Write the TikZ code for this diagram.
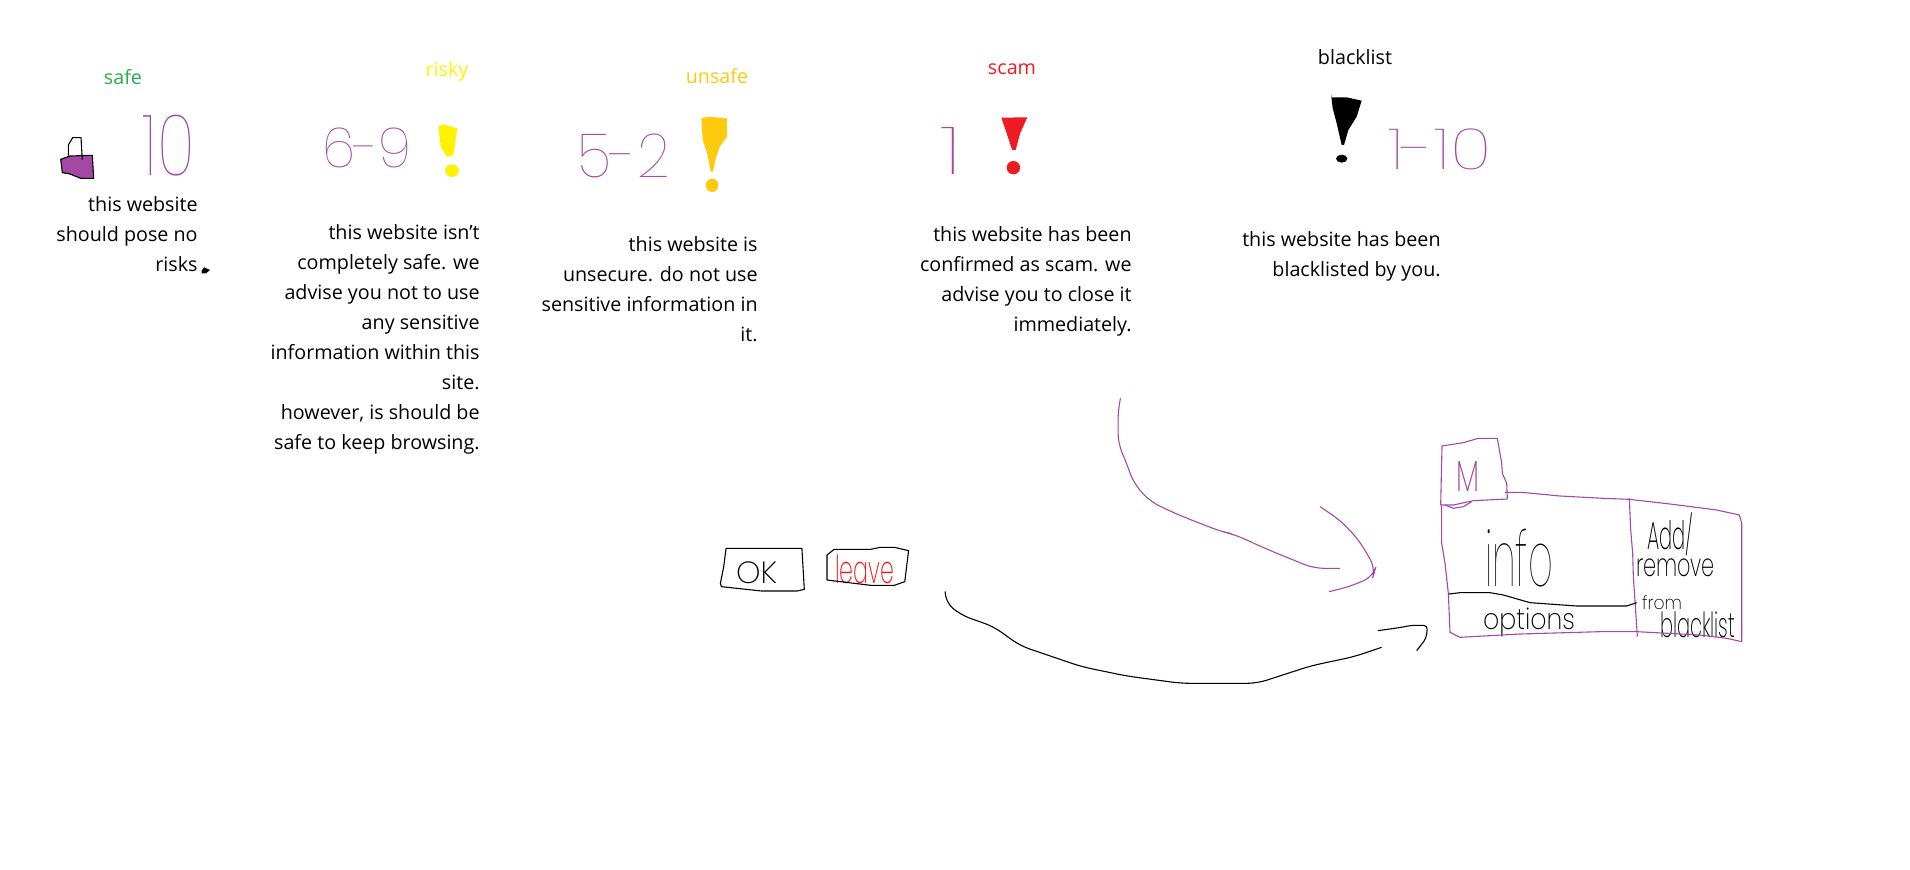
\documentclass[tikz,border=0pt]{standalone}
\usepackage{fontspec}
\usepackage{graphicx}
\setmainfont{Open Sans}
\newfontfamily\hand{Poppins Thin}
\newfontfamily\handb{Poppins ExtraLight}
\definecolor{msgreen}{HTML}{22B14C}
\definecolor{msyellow}{HTML}{FFF200}
\definecolor{msamber}{HTML}{FFC90E}
\definecolor{msred}{HTML}{ED1C24}
\definecolor{mspurple}{HTML}{A349A4}
\newcommand{\hw}[7]{\node[inner sep=0pt,text=#6] (#1) at ({(#2+#4)/2},{(#3+#5)/2}) {\resizebox*{\dimexpr #4pt/2-#2pt/2\relax}{\dimexpr #5pt/2-#3pt/2\relax}{\hand #7}};}
\newcommand{\hwb}[7]{\node[inner sep=0pt,text=#6] (#1) at ({(#2+#4)/2},{(#3+#5)/2}) {\resizebox*{\dimexpr #4pt/2-#2pt/2\relax}{\dimexpr #5pt/2-#3pt/2\relax}{\handb #7}};}
\tikzset{
 bodytext/.style={anchor=base east,align=right,inner sep=0pt,font=\fontsize{9.85}{15}\selectfont,text=black},
 labeltext/.style={inner sep=0pt,font=\fontsize{9.85}{15}\selectfont},
 pen/.style={line width=0.55pt,line join=round},
 sweep/.style={pen,rounded corners=5pt},
 zone a/.style={x=.16667pt,y=-.16667pt,yshift=-15pt},
 zone b/.style={x=.2242pt,y=-.16667pt,xshift=250pt,yshift=-15pt},
 zone c/.style={x=.16667pt,y=-.16667pt,xshift=600pt,yshift=-15pt},
 zone d/.style={x=.16667pt,y=-.16667pt,xshift=710pt,yshift=-215pt},
 zone e/.style={x=.237pt,y=-.16667pt,xshift=350pt,yshift=-190pt},
}
\begin{document}
\begin{tikzpicture}[x=.5pt,y=-.5pt]
\useasboundingbox (0,0) rectangle (1910,870);
% headings
\node[labeltext,text=msgreen] (lsafe) at (123,77) {safe};
\node[labeltext,text=msyellow] (lrisky) at (447,71) {risky};
\node[labeltext,text=msamber] (lunsafe) at (717,76) {unsafe};
\node[labeltext,text=msred] (lscam) at (1012,69) {scam};
\node[labeltext,text=black] (lblack) at (1355,57) {blacklist};
% descriptions
\node[bodytext] (tsafe) at (198,272) {this website\\should pose no\\risks};
\node[bodytext] (trisky) at (480,450) {this website isn't\\completely safe. we\\advise you not to use\\any sensitive\\information within this\\site.\\however, is should be\\safe to keep browsing.};
\node[bodytext] (tunsafe) at (758,342) {this website is\\unsecure. do not use\\sensitive information in\\it.};
\node[bodytext] (tscam) at (1132,332) {this website has been\\confirmed as scam. we\\advise you to close it\\immediately.};
\node[bodytext] (tblack) at (1441,277) {this website has been\\blacklisted by you.};
% handwritten scores
\hw{n10}{143}{115}{195}{176}{mspurple}{10}
\hw{n69}{322}{128}{412}{168}{mspurple}{6-9}
\hw{n52}{578}{134}{670}{178}{mspurple}{5-2}
\hw{n1}{940}{128}{962}{175}{mspurple}{1}
\hw{n110}{1388}{129}{1492}{170}{mspurple}{1-10}
\hwb{nok}{736}{562}{777}{584}{black}{OK}
\hwb{nleave}{835}{555}{894}{584}{msred}{leave}
\hwb{nm}{1456}{462}{1479}{492}{mspurple}{M}
\hw{ninfo}{1485}{529}{1553}{587}{black}{info}
\hwb{nopt}{1483}{608}{1575}{637}{black}{options}
\hwb{nadd}{1647}{513}{1693}{556}{black}{Add/}
\hwb{nrem}{1636}{559}{1715}{577}{black}{remove}
\hwb{nfrom}{1642}{596}{1682}{610}{black}{from}
\hwb{nbl}{1660}{612}{1735}{638}{black}{blacklist}
% lock, cursor speck, yellow mark
\begin{scope}[zone a]
\draw[pen,fill=mspurple] (182,388)--(210,378)--(277,376)--(281,445)--(242,445)--(210,432)--(187,428)--cycle;
\draw[pen] (205,378)--(205,345)--(218,323)--(243,323)--(247,390);
\fill (605,722)--(612,712)--(630,720)--(618,730)--(605,730)--cycle;
\fill[msyellow] (1315,290)--(1330,283)--(1372,295)--(1360,375)--(1340,380)--(1322,350)--cycle;
\fill[msyellow] (1356,422) ellipse [x radius=21,y radius=19];
\end{scope}
% amber and red marks
\begin{scope}[zone b]
\fill[msamber] (449,265)--(465,260)--(506,265)--(506,320)--(490,350)--(480,390)--(475,425)--(470,425)--(462,370)--(452,330)--cycle;
\fill[msamber] (473,466) ellipse [x radius=14,y radius=20];
\fill[msred] (1118,263)--(1176,262)--(1160,310)--(1150,360)--(1142,360)--(1130,310)--cycle;
\fill[msred] (1145,413) ellipse [x radius=15,y radius=20];
\end{scope}
% black mark
\begin{scope}[zone c]
\fill (393,193)--(395,202)--(440,202)--(485,212)--(470,260)--(445,300)--(432,345)--(425,345)--(410,280)--(398,235)--cycle;
\fill (425,386) ellipse [x radius=17,y radius=12];
\end{scope}
% mock-up panel
\begin{scope}[zone d]
\draw[pen,mspurple] (66,48)--(130,38)--(175,25)--(232,25)--(245,100)--(247,130)--(260,160)--(262,207)--(160,212)--(100,225)--(62,225)--cycle;
\draw[pen,mspurple] (75,225)--(100,235)--(130,230)--(155,215);
\draw[pen,mspurple] (255,187)--(305,187)--(420,198)--(550,205)--(628,208)--(750,222)--(890,240)--(958,255)--(965,280)--(965,635)--(920,625)--(840,615)--(650,605)--(540,605)--(300,612)--(120,622)--(90,607)--(85,490)--(75,400)--(65,340)--(65,228);
\draw[pen,mspurple] (628,205)--(632,300)--(638,370)--(640,440)--(652,620);
\draw[pen] (87,492)--(120,488)--(210,488)--(250,495)--(330,518)--(470,528)--(620,528)--(650,518);
\end{scope}
% buttons and arrows
\begin{scope}[zone e]
\draw[pen] (55,505)--(215,505)--(220,628)--(205,633)--(130,633)--(45,620)--(43,610)--(50,560)--cycle;
\draw[pen] (283,508)--(360,508)--(380,502)--(410,502)--(440,512)--(432,605)--(410,616)--(360,616)--(268,600)--(268,525)--cycle;
\draw[sweep,mspurple] (887,55)--(882,90)--(882,190)--(900,250)--(915,310)--(950,365)--(1010,405)--(1100,455)--(1125,462)--(1200,510)--(1295,565)--(1350,565);
\draw[sweep,mspurple] (1308,380)--(1350,420)--(1390,480)--(1425,565)--(1420,590)--(1370,620)--(1327,635);
\draw[sweep] (517,637)--(517,665)--(550,705)--(620,740)--(675,797)--(805,860)--(900,888)--(1015,910)--(1175,910)--(1290,857)--(1380,830)--(1438,802);
\draw[pen,rounded corners=2pt] (1430,752)--(1480,742)--(1500,736)--(1535,736)--(1532,775)--(1512,812);
\end{scope}
\end{tikzpicture}
\end{document}
